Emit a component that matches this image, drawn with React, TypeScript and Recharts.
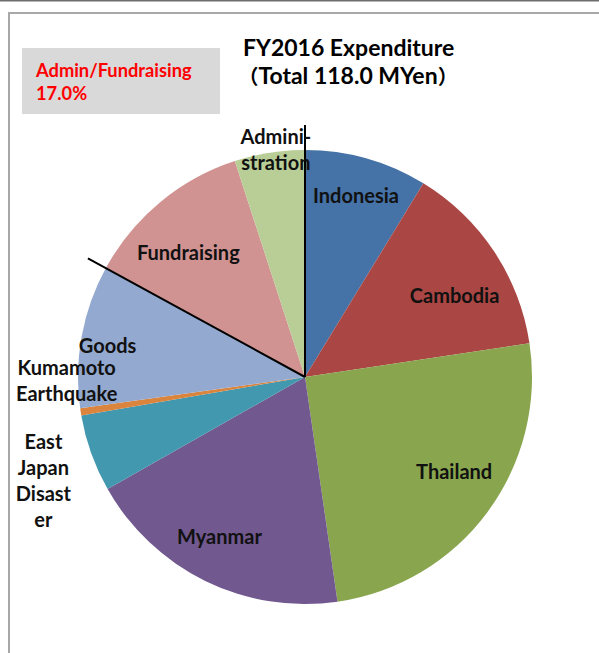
import React from "react";
import { PieChart, Pie, Cell } from "recharts";

const categories = [
  "Indonesia",
  "Cambodia",
  "Thailand",
  "Myanmar",
  "East Japan Disaster",
  "Kumamoto Earthquake",
  "Goods",
  "Fundraising",
  "Administration",
];
const labelLines = [
  ["Indonesia"],
  ["Cambodia"],
  ["Thailand"],
  ["Myanmar"],
  ["East", "Japan", "Disast", "er"],
  ["Kumamoto", "Earthquake"],
  ["Goods"],
  ["Fundraising"],
  ["Admini-", "stration"],
];
// MYen
const expenditure = [10.3, 16.4, 29.6, 22.5, 6.5, 0.6, 12.0, 14.2, 5.9];
const overheadCategories = ["Fundraising", "Administration"];
const fiscalYear = "FY2016";

const colors = [
  "#4572A7",
  "#AA4643",
  "#89A54E",
  "#71588F",
  "#4198AF",
  "#DB843D",
  "#93A9CF",
  "#D19392",
  "#B9CD96",
];
// label layout: radial factor and clockwise angle shift (deg)
const labelRadius = [0.83, 0.75, 0.78, 0.8, 1.24, 1.05, 0.88, 0.75, 1.01];
const labelShift = [0, 5, -4, 2, -2, 8, -1.5, -3.6, 1.7];

const data = categories.map((name, i) => ({ name, value: expenditure[i] }));
const total = expenditure.reduce((a, b) => a + b, 0);
const overhead = categories.reduce(
  (s, c, i) => (overheadCategories.includes(c) ? s + expenditure[i] : s),
  0
);

const W = 599;
const H = 653;
const CX = 305;
const CY = 377;
const R = 227;
const FONT = "Lato, 'Noto Sans CJK JP', sans-serif";
const CJK = "'Noto Sans CJK JP', sans-serif";
const RAD = Math.PI / 180;

const cumBefore = (idx: number) =>
  expenditure.slice(0, idx).reduce((a, b) => a + b, 0);
const rcAngle = (cum: number) => 90 - (cum / total) * 360;

const renderLabel = (props: any) => {
  const { cx, cy, midAngle, outerRadius, index } = props;
  const a = midAngle - labelShift[index];
  const r = outerRadius * labelRadius[index];
  const x = cx + r * Math.cos(-a * RAD);
  const y = cy + r * Math.sin(-a * RAD);
  const lines = labelLines[index];
  const lh = 26;
  const firstBase = y - ((lines.length - 1) * lh) / 2 + 7;
  const extras: any[] = [];
  const fIdx = categories.indexOf(overheadCategories[0]);
  if (index === fIdx) {
    const ang = rcAngle(cumBefore(fIdx));
    const len = outerRadius * 1.09;
    extras.push(
      <line
        key="l1"
        x1={cx}
        y1={cy}
        x2={cx + len * Math.cos(-ang * RAD)}
        y2={cy + len * Math.sin(-ang * RAD)}
        stroke="#000"
        strokeWidth={2}
      />
    );
  }
  if (index === categories.length - 1) {
    const ang = rcAngle(total);
    const len = outerRadius * 1.11;
    extras.push(
      <line
        key="l2"
        x1={cx}
        y1={cy}
        x2={cx + len * Math.cos(-ang * RAD)}
        y2={cy + len * Math.sin(-ang * RAD)}
        stroke="#000"
        strokeWidth={2}
      />
    );
  }
  return (
    <g key={`lab-${index}`}>
      {extras}
      <text
        x={x}
        y={firstBase}
        textAnchor="middle"
        fontFamily={FONT}
        fontWeight={700}
        fontSize={20}
        fill="#111"
      >
        {lines.map((t, i) => (
          <tspan key={i} x={x} y={firstBase + i * lh}>
            {t}
          </tspan>
        ))}
      </text>
    </g>
  );
};

export default function App() {
  return (
    <div
      style={{
        position: "absolute",
        left: 0,
        top: 0,
        width: W,
        height: H,
        background: "#fff",
      }}
    >
      <svg
        width={W}
        height={H}
        style={{ position: "absolute", left: 0, top: 0 }}
      >
        <rect x={0} y={0} width={W} height={1.5} fill="#6d6d6d" />
        <rect x={8} y={12} width={W - 8} height={2} fill="#a8a8a8" />
        <rect x={8} y={12} width={2} height={H - 12} fill="#a8a8a8" />
        <rect x={22} y={48} width={198} height={66} fill="#d9d9d9" />
        <text
          x={36}
          y={77}
          fontFamily={FONT}
          fontWeight={700}
          fontSize={18.3}
          fill="#ff0000"
        >
          Admin/Fundraising
        </text>
        <text
          x={36}
          y={100}
          fontFamily={FONT}
          fontWeight={700}
          fontSize={18.3}
          fill="#ff0000"
        >
          {((overhead / total) * 100).toFixed(1)}%
        </text>
        <text
          x={243}
          y={56}
          fontFamily={FONT}
          fontWeight={700}
          fontSize={23}
          fill="#000"
        >
          {fiscalYear} Expenditure
        </text>
        <text
          x={348}
          y={84}
          textAnchor="middle"
          fontFamily={FONT}
          fontWeight={700}
          fontSize={23}
          fill="#000"
        >
          <tspan fontFamily={CJK} fontSize={20}>（</tspan>
          <tspan>{`Total ${total.toFixed(1)} MYen`}</tspan>
          <tspan fontFamily={CJK} fontSize={20}>）</tspan>
        </text>
      </svg>
      <div style={{ position: "absolute", left: 0, top: 0 }}>
        <PieChart
          width={W}
          height={H}
          margin={{ top: 0, right: 0, bottom: 0, left: 0 }}
        >
          <Pie
            data={data}
            dataKey="value"
            nameKey="name"
            cx={CX}
            cy={CY}
            outerRadius={R}
            startAngle={90}
            endAngle={-270}
            stroke="none"
            isAnimationActive={false}
            label={renderLabel}
            labelLine={false}
          >
            {data.map((d, i) => (
              <Cell key={d.name} fill={colors[i]} />
            ))}
          </Pie>
        </PieChart>
      </div>
    </div>
  );
}
